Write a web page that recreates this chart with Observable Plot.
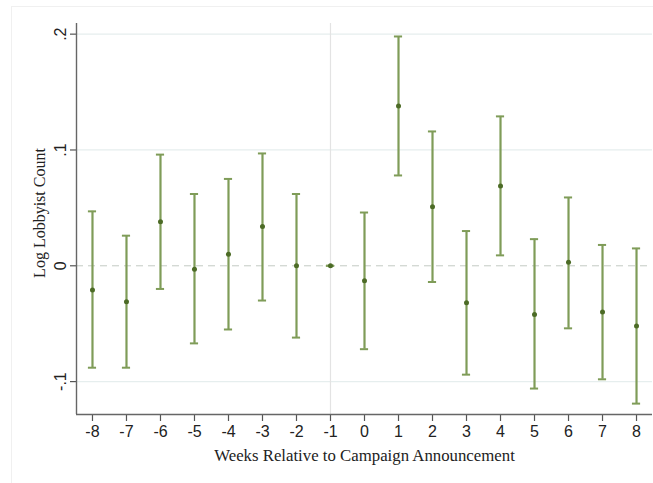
<!DOCTYPE html>
<html>
<head>
<meta charset="utf-8">
<script src="https://cdn.jsdelivr.net/npm/d3@7"></script>
<script src="https://cdn.jsdelivr.net/npm/@observablehq/plot@0.6"></script>
<style>
  html, body { margin: 0; padding: 0; background: #fff; }
  #wrap { position: relative; width: 653px; height: 483px; }
  #frame { position: absolute; left: 11px; top: 6px; width: 660px; height: 490px;
           border-left: 1px solid #f0f0f0; border-top: 1px solid #f0f0f0; pointer-events: none; }
</style>
</head>
<body>
<div id="wrap"><div id="frame"></div></div>
<script>
const weeks = [-8, -7, -6, -5, -4, -3, -2, -1, 0, 1, 2, 3, 4, 5, 6, 7, 8];
const estimates = [-0.021, -0.031, 0.038, -0.003, 0.010, 0.034, 0.000, 0.000, -0.013, 0.138, 0.051, -0.032, 0.069, -0.042, 0.003, -0.040, -0.052];
const upper = [0.047, 0.026, 0.096, 0.062, 0.075, 0.097, 0.062, 0.000, 0.046, 0.198, 0.116, 0.030, 0.129, 0.023, 0.059, 0.018, 0.015];
const lower = [-0.088, -0.088, -0.020, -0.067, -0.055, -0.030, -0.062, 0.000, -0.072, 0.078, -0.014, -0.094, 0.009, -0.106, -0.054, -0.098, -0.119];
const yTicks = [-0.1, 0, 0.1, 0.2];
const yTickLabels = ["-.1", "0", ".1", ".2"];
const xTicks = weeks;
const xTitle = "Weeks Relative to Campaign Announcement";
const yTitle = "Log Lobbyist Count";
const referenceWeek = [-1];
const xDomain = [-8.47, 8.47];
const yDomain = [-0.1284, 0.2092];

const data = weeks.map((w, i) => ({week: w, est: estimates[i], hi: upper[i], lo: lower[i]}));
const capHalf = 0.12;

const plot = Plot.plot({
  width: 653,
  height: 483,
  marginLeft: 76,
  marginRight: 1,
  marginTop: 23,
  marginBottom: 69,
  style: {background: "transparent", fontFamily: "'Liberation Sans', Arial, sans-serif"},
  x: {domain: xDomain},
  y: {domain: yDomain},
  marks: [
    Plot.ruleY(yTicks.filter(d => d !== 0), {stroke: "#e6eeee", strokeWidth: 1.2}),
    Plot.ruleX(referenceWeek, {stroke: "#e3e3e3", strokeWidth: 1.2}),
    Plot.ruleY([0], {stroke: "#c4cbc4", strokeWidth: 1, strokeDasharray: "7,5"}),
    Plot.ruleX(data, {x: "week", y1: "lo", y2: "hi", stroke: "#7f9c58", strokeWidth: 2.2}),
    Plot.ruleY(data, {y: "hi", x1: d => d.week - capHalf, x2: d => d.week + capHalf, stroke: "#7f9c58", strokeWidth: 2}),
    Plot.ruleY(data, {y: "lo", x1: d => d.week - capHalf, x2: d => d.week + capHalf, stroke: "#7f9c58", strokeWidth: 2}),
    Plot.dot(data, {x: "week", y: "est", r: 2.5, fill: "#4c6b26", stroke: "none"}),
    Plot.axisY({ticks: yTicks, tickSize: 6, tickFormat: () => "", label: null, stroke: "#555", strokeWidth: 1.2}),
    Plot.text(yTicks, {frameAnchor: "left", y: d => d, text: (d, i) => yTickLabels[i], rotate: -90, dx: -16, fontSize: 16, fill: "#222", textAnchor: "middle"}),
    Plot.axisX({ticks: xTicks, tickSize: 7, tickPadding: 4, fontSize: 16, tickFormat: d => String(d), label: null, stroke: "#555", strokeWidth: 1.2, color: "#222"}),
    Plot.ruleX([xDomain[0]], {stroke: "#666", strokeWidth: 1.4}),
    Plot.ruleY([yDomain[0]], {stroke: "#666", strokeWidth: 1.4}),
    Plot.text([yTitle], {frameAnchor: "left", text: d => d, rotate: -90, dx: -37, dy: -6, textAnchor: "middle", fontSize: 16, fontFamily: "'Liberation Serif', 'Times New Roman', serif", fill: "#222"}),
    Plot.text([xTitle], {frameAnchor: "bottom", text: d => d, dy: 46, textAnchor: "middle", fontSize: 16.8, fontFamily: "'Liberation Serif', 'Times New Roman', serif", fill: "#222"})
  ]
});
document.getElementById("wrap").prepend(plot);
</script>
</body>
</html>
